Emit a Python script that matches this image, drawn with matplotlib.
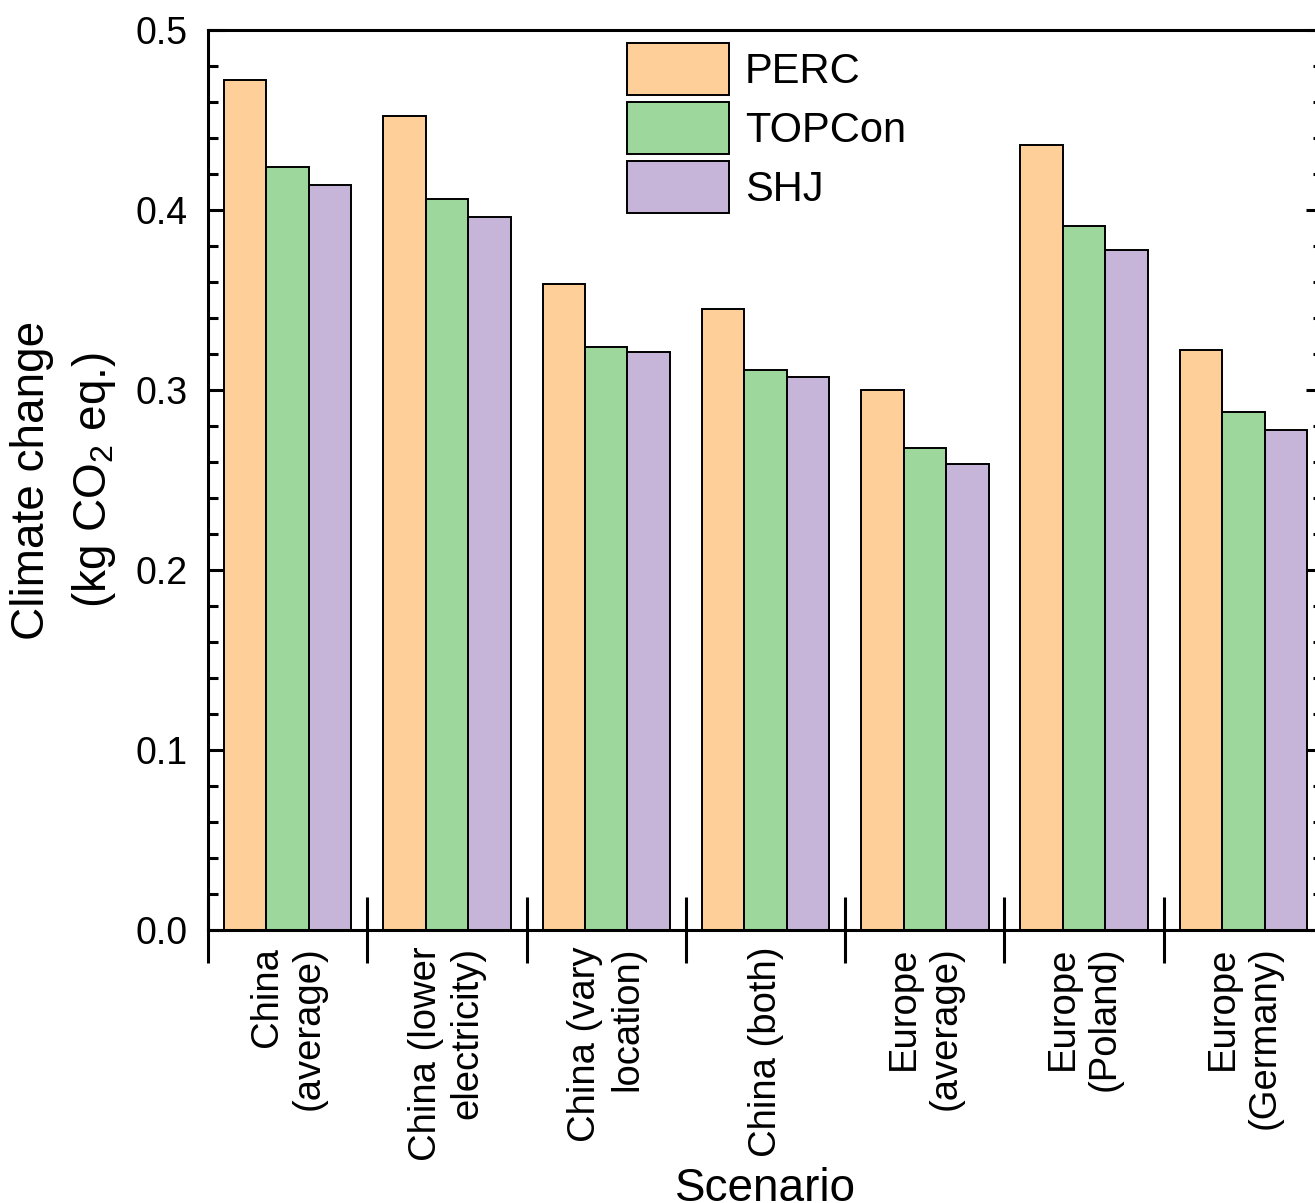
import matplotlib
matplotlib.use("Agg")
import matplotlib.pyplot as plt
import numpy as np

plt.rcParams['font.family'] = ['Liberation Sans', 'DejaVu Sans']
plt.rcParams['mathtext.default'] = 'regular'

scenarios = ['China\n(average)', 'China (lower\nelectricity)', 'China (vary\nlocation)',
             'China (both)', 'Europe\n(average)', 'Europe\n(Poland)', 'Europe\n(Germany)']
perc = [0.472, 0.452, 0.359, 0.345, 0.300, 0.436, 0.322]
topcon = [0.424, 0.406, 0.324, 0.311, 0.268, 0.391, 0.288]
shj = [0.414, 0.396, 0.321, 0.307, 0.259, 0.378, 0.278]
series = ['PERC', 'TOPCon', 'SHJ']
colors = ['#FECF98', '#9DD79C', '#C6B5D8']

fig = plt.figure(figsize=(13.15, 12.03), dpi=100)
# right edge sits just past the figure, so the right spine is cut off
ax = fig.add_axes([0.1582, 0.2269, 0.8479, 0.7482])

centers = np.arange(len(scenarios)) + 0.5
w = 0.8 / 3
for k, vals in enumerate([perc, topcon, shj]):
    ax.bar(centers + (k - 1) * w, vals, width=w, color=colors[k],
           edgecolor='black', linewidth=1.4, label=series[k], zorder=2)

ax.set_xlim(0, len(scenarios))
ax.set_ylim(0, 0.5)

for s in ax.spines.values():
    s.set_linewidth(2.2)

# y axis: inward ticks on both sides, 4 minor ticks between majors
ax.set_yticks(np.arange(0, 0.51, 0.1))
ax.set_yticks(np.arange(0, 0.5, 0.02), minor=True)
ax.yaxis.set_major_formatter(matplotlib.ticker.FormatStrFormatter('%.1f'))
ax.tick_params(axis='y', which='both', direction='in', left=True, right=True,
               width=2.2, labelsize=27, pad=15)
ax.tick_params(axis='y', which='major', length=12)
ax.tick_params(axis='y', which='minor', length=7)

# x axis: separators between groups, names centred on each group
ax.set_xticks(np.arange(0, len(scenarios) + 1))
ax.set_xticklabels([])
ax.tick_params(axis='x', which='major', direction='inout', length=47, width=2.2,
               top=False)
ax.set_xticks(centers, minor=True)
ax.set_xticklabels(scenarios, minor=True, rotation=90, fontsize=27.5,
                   va='top', ha='center', multialignment='right')
ax.tick_params(axis='x', which='minor', length=0, pad=12, top=False)

ax.set_ylabel('Climate change\n(kg CO$_2$ eq.)', fontsize=33, labelpad=12,
              linespacing=1.45)
ax.set_xlabel('Scenario', fontsize=33, labelpad=4)

ax.legend(loc='upper left', bbox_to_anchor=(0.3758, 0.9856), frameon=False,
          fontsize=30, handlelength=2.45, handleheight=1.545, labelspacing=0.17,
          handletextpad=0.38, borderpad=0, borderaxespad=0)

fig.savefig('out.png', dpi=100)
